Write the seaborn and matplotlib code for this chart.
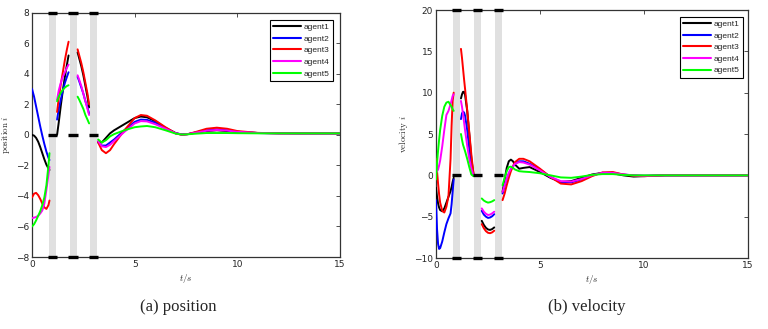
import numpy as np
import pandas as pd
import seaborn as sns
import matplotlib.pyplot as plt
from matplotlib.lines import Line2D

agents = ["agent1", "agent2", "agent3", "agent4", "agent5"]
colors = ["#000000", "#0000ff", "#ff0000", "#ff00ff", "#00ff00"]

# ---- position data (4 segments between the grey bands) ----
pos_tA = [0, 0.1, 0.2, 0.3, 0.4, 0.5, 0.6, 0.7, 0.8, 0.85]
pos_A = {
    "agent1": [0, -0.05, -0.2, -0.45, -0.8, -1.2, -1.6, -1.95, -2.2, -2.3],
    "agent2": [3.0, 2.5, 1.85, 1.2, 0.55, -0.05, -0.6, -1.1, -1.5, -1.65],
    "agent3": [-4.1, -3.85, -3.8, -3.95, -4.2, -4.5, -4.75, -4.85, -4.6, -4.3],
    "agent4": [-5.45, -5.42, -5.38, -5.3, -5.15, -4.95, -4.5, -3.6, -2.6, -2.1],
    "agent5": [-6.0, -5.85, -5.6, -5.3, -5.0, -4.6, -4.1, -3.3, -2.0, -1.2],
}
pos_tB = [1.22, 1.3, 1.4, 1.5, 1.6, 1.7, 1.78]
pos_B = {
    "agent1": [0, 0.8, 1.9, 2.9, 3.8, 4.6, 5.2],
    "agent2": [1.0, 1.7, 2.3, 2.9, 3.4, 3.8, 4.1],
    "agent3": [1.5, 2.4, 3.3, 4.1, 4.9, 5.6, 6.1],
    "agent4": [2.3, 2.9, 3.4, 3.8, 4.1, 4.4, 4.6],
    "agent5": [2.2, 2.5, 2.75, 2.95, 3.1, 3.2, 3.25],
}
pos_tC = [2.22, 2.3, 2.4, 2.5, 2.6, 2.7, 2.78]
pos_C = {
    "agent1": [5.4, 5.0, 4.5, 3.9, 3.2, 2.5, 1.8],
    "agent2": [3.8, 3.5, 3.1, 2.7, 2.2, 1.8, 1.4],
    "agent3": [5.6, 5.2, 4.7, 4.1, 3.4, 2.7, 2.0],
    "agent4": [3.9, 3.6, 3.2, 2.7, 2.2, 1.7, 1.3],
    "agent5": [2.5, 2.3, 2.0, 1.7, 1.3, 1.0, 0.75],
}
pos_tD = [3.22, 3.4, 3.6, 3.8, 4.0, 4.5, 5.0, 5.3, 5.6, 6.0, 6.5, 7.0, 7.3, 7.6,
          8.0, 8.5, 9.0, 9.5, 10.0, 11, 12, 13, 14, 15]
pos_D = {
    "agent1": [-0.45, -0.5, -0.2, 0.1, 0.3, 0.7, 1.1, 1.2, 1.15, 0.9, 0.45, 0.1, 0.02, 0.05,
               0.15, 0.25, 0.3, 0.25, 0.18, 0.12, 0.11, 0.1, 0.1, 0.1],
    "agent2": [-0.5, -0.7, -0.7, -0.5, -0.3, 0.3, 0.85, 1.0, 0.98, 0.8, 0.45, 0.12, 0.02, 0.05,
               0.17, 0.3, 0.36, 0.3, 0.2, 0.12, 0.1, 0.1, 0.1, 0.1],
    "agent3": [-0.5, -1.0, -1.2, -1.0, -0.6, 0.3, 1.1, 1.3, 1.25, 0.95, 0.5, 0.1, 0.0, 0.05,
               0.2, 0.4, 0.47, 0.4, 0.25, 0.13, 0.1, 0.1, 0.1, 0.1],
    "agent4": [-0.4, -0.75, -0.8, -0.65, -0.4, 0.2, 0.75, 0.9, 0.88, 0.7, 0.4, 0.1, 0.02, 0.05,
               0.15, 0.27, 0.32, 0.28, 0.2, 0.12, 0.1, 0.1, 0.1, 0.1],
    "agent5": [-0.3, -0.5, -0.35, -0.1, 0.05, 0.3, 0.5, 0.55, 0.58, 0.5, 0.3, 0.08, 0.02, 0.04,
               0.08, 0.12, 0.12, 0.12, 0.11, 0.1, 0.1, 0.1, 0.1, 0.1],
}

# ---- velocity data ----
vel_tA = [0, 0.05, 0.1, 0.15, 0.2, 0.3, 0.4, 0.5, 0.6, 0.7, 0.75, 0.8, 0.85]
vel_A = {
    "agent1": [-1.5, -2.6, -3.4, -3.9, -4.2, -4.35, -4.0, -3.3, -2.6, -1.9, -1.4, -0.8, -0.3],
    "agent2": [-3.0, -6.5, -8.3, -8.9, -8.8, -8.0, -6.9, -5.9, -5.2, -4.6, -3.5, -2.0, -0.5],
    "agent3": [2.0, 0.5, -1.0, -2.3, -3.3, -4.3, -4.5, -3.8, -2.5, 2.0, 6.0, 9.0, 10.0],
    "agent4": [0.3, 0.5, 0.7, 1.2, 1.8, 3.5, 5.5, 7.3, 7.8, 8.6, 9.1, 9.6, 9.8],
    "agent5": [-0.5, 1.5, 3.0, 4.3, 5.5, 7.2, 8.3, 8.8, 8.9, 8.5, 8.3, 8.0, 7.8],
}
vel_tB = [1.2, 1.25, 1.3, 1.35, 1.4, 1.5, 1.6, 1.7, 1.8]
vel_B = {
    "agent1": [9.3, 9.8, 10.1, 10.1, 9.7, 7.8, 5.0, 2.0, 0.2],
    "agent2": [6.8, 7.5, 7.7, 7.6, 7.2, 5.5, 3.2, 1.2, 0.0],
    "agent3": [15.3, 14.2, 12.9, 11.6, 10.4, 7.9, 5.2, 2.5, 0.2],
    "agent4": [9.0, 8.3, 7.4, 6.4, 5.4, 3.6, 2.0, 0.8, 0.0],
    "agent5": [5.0, 4.3, 3.7, 3.3, 2.9, 2.0, 1.0, 0.1, -0.1],
}
vel_tC = [2.2, 2.3, 2.4, 2.5, 2.6, 2.7, 2.8]
vel_C = {
    "agent1": [-5.5, -6.0, -6.35, -6.55, -6.6, -6.5, -6.3],
    "agent2": [-4.3, -4.75, -5.0, -5.15, -5.1, -4.95, -4.7],
    "agent3": [-5.9, -6.4, -6.75, -6.95, -7.0, -6.9, -6.7],
    "agent4": [-4.0, -4.4, -4.65, -4.8, -4.75, -4.6, -4.4],
    "agent5": [-2.8, -3.05, -3.2, -3.3, -3.25, -3.15, -3.0],
}
vel_tD = [3.2, 3.3, 3.4, 3.5, 3.6, 3.7, 3.8, 4.0, 4.2, 4.5, 5.0, 5.5, 6.0, 6.5, 7.0, 7.5,
          8.0, 8.5, 9.0, 9.5, 10, 11, 12, 13, 15]
vel_D = {
    "agent1": [-2.0, -0.5, 0.9, 1.7, 1.9, 1.7, 1.3, 0.8, 0.9, 1.0, 0.4, -0.3, -0.8, -0.7, -0.3,
               0.1, 0.3, 0.25, 0.0, -0.15, -0.1, 0.0, 0.0, 0.0, 0.0],
    "agent2": [-2.2, -1.3, -0.5, 0.2, 0.7, 1.1, 1.4, 1.7, 1.7, 1.4, 0.7, -0.2, -0.8, -0.85, -0.5,
               0.0, 0.3, 0.3, 0.1, 0.0, -0.05, 0.0, 0.0, 0.0, 0.0],
    "agent3": [-3.0, -2.2, -1.2, -0.3, 0.5, 1.1, 1.6, 2.0, 2.0, 1.7, 0.8, -0.2, -1.0, -1.1, -0.7,
               -0.1, 0.35, 0.4, 0.1, -0.05, -0.1, 0.0, 0.0, 0.0, 0.0],
    "agent4": [-2.0, -1.2, -0.4, 0.3, 0.8, 1.1, 1.4, 1.6, 1.55, 1.3, 0.6, -0.2, -0.7, -0.75, -0.45,
               0.0, 0.3, 0.3, 0.1, 0.0, -0.05, 0.0, 0.0, 0.0, 0.0],
    "agent5": [-1.2, -0.3, 0.5, 1.0, 1.05, 0.9, 0.7, 0.5, 0.45, 0.4, 0.25, 0.0, -0.25, -0.3, -0.15,
               0.05, 0.15, 0.15, 0.05, 0.0, 0.0, 0.0, 0.0, 0.0, 0.0],
}

# grey event bands and leader marks
band_lo = [0.83, 1.83, 2.84]
band_hi = [1.17, 2.17, 3.17]
mark_lo = [0.76, 1.77, 2.77]
mark_hi = [1.22, 2.22, 3.22]

x_ticks = [0, 5, 10, 15]
pos_yticks = [-8, -6, -4, -2, 0, 2, 4, 6, 8]
vel_yticks = [-10, -5, 0, 5, 10, 15, 20]


def build(segments):
    rows = []
    for si, (ts, vals) in enumerate(segments):
        for a in agents:
            for t, v in zip(ts, vals[a]):
                rows.append({"t": t, "v": v, "agent": a, "seg": si})
    return pd.DataFrame(rows)


pos_df = build([(pos_tA, pos_A), (pos_tB, pos_B), (pos_tC, pos_C), (pos_tD, pos_D)])
vel_df = build([(vel_tA, vel_A), (vel_tB, vel_B), (vel_tC, vel_C), (vel_tD, vel_D)])

sns.set_style("white")
plt.rcParams["font.family"] = ["Liberation Sans", "DejaVu Sans"]
plt.rcParams["mathtext.fontset"] = "cm"

fig = plt.figure(figsize=(7.68, 3.29), dpi=100)
ax1 = fig.add_axes([0.0417, 0.2188, 0.401, 0.7426])
ax2 = fig.add_axes([0.5677, 0.2158, 0.4063, 0.7538])

palette = dict(zip(agents, colors))


def draw(ax, df, ylim, yticks, ylabel, leg_anchor):
    for lo, hi in zip(band_lo, band_hi):
        ax.axvspan(lo, hi, color="#e0e0e0", lw=0, zorder=0)
    sns.lineplot(data=df, x="t", y="v", hue="agent", units="seg", estimator=None,
                 palette=palette, sort=False, legend=False, linewidth=1.4, ax=ax, zorder=3)
    for lo, hi in zip(mark_lo, mark_hi):
        for yy in (0, ylim[0], ylim[1]):
            ax.plot([lo, hi], [yy, yy], color="black", lw=2.4, solid_capstyle="butt",
                    clip_on=False, zorder=4)
    ax.set_xlim(0, 15)
    ax.set_ylim(*ylim)
    ax.set_xticks(x_ticks)
    ax.set_yticks(yticks)
    ax.tick_params(direction="in", length=3, width=0.6, labelsize=6.5, top=True, right=True,
                   pad=2, color="#333333")
    for lab in ax.get_xticklabels() + ax.get_yticklabels():
        lab.set_fontfamily("DejaVu Sans")
    for s in ax.spines.values():
        s.set_visible(True)
        s.set_color("#333333")
        s.set_linewidth(0.9)
    ax.set_xlabel(r"$t/s$", fontsize=6.5, labelpad=2)
    ax.set_ylabel(ylabel, fontsize=6.5, labelpad=3)
    handles = [Line2D([0], [0], color=c, lw=1.5) for c in colors]
    leg = ax.legend(handles, agents, loc="upper right", bbox_to_anchor=leg_anchor,
                    borderaxespad=0, fontsize=6, frameon=True, fancybox=False,
                    edgecolor="black", framealpha=1, handlelength=3.4, handletextpad=0.3,
                    labelspacing=0.45, borderpad=0.4)
    leg.get_frame().set_linewidth(0.8)


draw(ax1, pos_df, (-8, 8), pos_yticks, r"$\mathrm{position}\ i$", (0.977, 0.97))
draw(ax2, vel_df, (-10, 20), vel_yticks, r"$\mathrm{velocity}\ i$", (0.984, 0.972))

fig.text(0.232, 0.068, "(a) position", ha="center", va="center", fontsize=12,
         family=["Liberation Serif", "DejaVu Serif"])
fig.text(0.764, 0.068, "(b) velocity", ha="center", va="center", fontsize=12,
         family=["Liberation Serif", "DejaVu Serif"])

fig.savefig("out.png", dpi=100, facecolor="white")
